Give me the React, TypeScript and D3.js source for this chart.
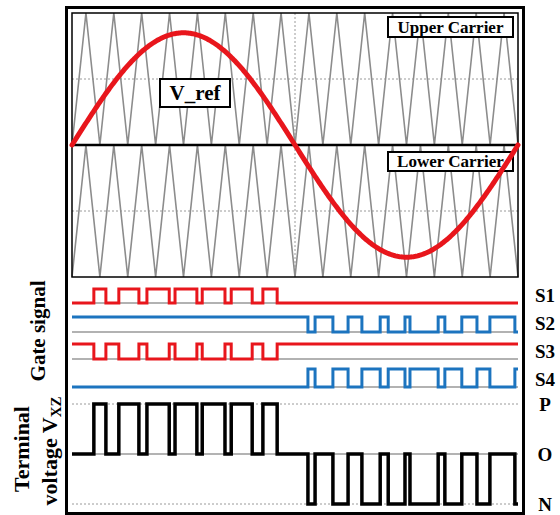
import React from "react";
import * as d3 from "d3";

// Modulation settings
const carrierCycles = 16;
const vrefAmplitude = 0.85;

// Labels
const carrierLabels = ["Upper Carrier", "Lower Carrier"];
const refLabel = "V_ref";
const gateLabels = ["S1", "S2", "S3", "S4"];
const levelLabels = ["P", "O", "N"];

// S1 on-intervals over one fundamental period (positive half cycle)
const s1On: [number, number][] = [
  [0.049, 0.076],
  [0.105, 0.15],
  [0.168, 0.218],
  [0.231, 0.28],
  [0.292, 0.343],
  [0.357, 0.404],
  [0.428, 0.46],
];

// S4 on-intervals (negative half cycle)
const s4On: [number, number][] = [
  [0.529, 0.545],
  [0.585, 0.619],
  [0.65, 0.691],
  [0.709, 0.7466],
  [0.7578, 0.821],
  [0.836, 0.874],
  [0.908, 0.937],
  [0.993, 1.0],
];

const W = 560;
const H = 515;
const PLOT_L = 72;
const PLOT_R = 518;
const CAR_TOP = 13;
const CAR_BOT = 277;

const RED = "#e8161c";
const BLUE = "#1c74bf";
const GRAY = "#8c8c8c";
const FONT = "'Liberation Serif','Times New Roman',serif";

type Seg = { a: number; b: number; v: number };

function stepPoints(segs: Seg[], base: number): [number, number][] {
  const pts: [number, number][] = [[0, base]];
  const sorted = [...segs].sort((p, q) => p.a - q.a);
  let level = base;
  for (const s of sorted) {
    pts.push([s.a, base], [s.a, s.v]);
    level = s.v;
    if (s.b < 1) {
      pts.push([s.b, s.v], [s.b, base]);
      level = base;
    } else {
      pts.push([1, s.v]);
    }
  }
  if (pts[pts.length - 1][0] < 1) pts.push([1, level]);
  return pts;
}

export default function App() {
  const x = d3.scaleLinear().domain([0, 1]).range([PLOT_L, PLOT_R]);
  const yc = d3.scaleLinear().domain([-1, 1]).range([CAR_BOT, CAR_TOP]);
  const yMid = yc(0);

  // carrier triangles
  const carrierPts = d3
    .range(0, 2 * carrierCycles + 1)
    .map((i) => [i / (2 * carrierCycles), i % 2] as [number, number]);
  const carrierLine = (offset: number) =>
    d3
      .line<[number, number]>()
      .x((d) => x(d[0]))
      .y((d) => yc(d[1] + offset))(carrierPts) as string;

  // reference sine
  const refPts = d3
    .range(0, 401)
    .map((i) => [i / 400, vrefAmplitude * Math.sin((2 * Math.PI * i) / 400)] as [number, number]);
  const refPath = d3
    .line<[number, number]>()
    .x((d) => x(d[0]))
    .y((d) => yc(d[1]))(refPts) as string;

  // gate rows
  const rows = [
    { base: 303, high: 289, color: RED, segs: s1On.map(([a, b]) => ({ a, b, v: 1 })), idle: 0 },
    { base: 332, high: 317, color: BLUE, segs: s4On.map(([a, b]) => ({ a, b, v: 0 })), idle: 1 },
    { base: 359, high: 344, color: RED, segs: s1On.map(([a, b]) => ({ a, b, v: 0 })), idle: 1 },
    { base: 387, high: 369, color: BLUE, segs: s4On.map(([a, b]) => ({ a, b, v: 1 })), idle: 0 },
  ];
  const labelY = [302, 330, 358, 386];

  // terminal voltage
  const yv = d3.scaleLinear().domain([-1, 1]).range([504, 404]);
  const vxzSegs: Seg[] = [
    ...s1On.map(([a, b]) => ({ a, b, v: 1 })),
    ...s4On.map(([a, b]) => ({ a, b, v: -1 })),
  ];
  const vxzPath = d3
    .line<[number, number]>()
    .x((d) => x(d[0]))
    .y((d) => yv(d[1]))(stepPoints(vxzSegs, 0)) as string;

  const levelY = [yv(1), yv(0), yv(-1)];

  return (
    <svg
      width={W}
      height={H}
      style={{ position: "absolute", left: 0, top: 0, background: "#fff" }}
      fontFamily={FONT}
      fontWeight="bold"
    >
      {/* carrier panel grid */}
      <g stroke="#9a9a9a" strokeWidth={1} strokeDasharray="2 2">
        <line x1={PLOT_L} x2={PLOT_R} y1={yc(0.5)} y2={yc(0.5)} />
        <line x1={PLOT_L} x2={PLOT_R} y1={yc(-0.5)} y2={yc(-0.5)} />
        <line x1={x(0.5)} x2={x(0.5)} y1={CAR_TOP} y2={CAR_BOT} />
      </g>

      {/* carriers */}
      <path d={carrierLine(0)} fill="none" stroke={GRAY} strokeWidth={1.6} />
      <path d={carrierLine(-1)} fill="none" stroke={GRAY} strokeWidth={1.6} />

      {/* carrier panel borders */}
      <rect
        x={PLOT_L}
        y={CAR_TOP}
        width={PLOT_R - PLOT_L}
        height={CAR_BOT - CAR_TOP}
        fill="none"
        stroke="#000"
        strokeWidth={1.5}
      />
      <line x1={PLOT_L} x2={PLOT_R} y1={yMid} y2={yMid} stroke="#000" strokeWidth={2.5} />

      {/* carrier labels */}
      <g>
        <rect x={388} y={17} width={125} height={20} fill="#fff" stroke="#000" strokeWidth={2} />
        <text x={450.5} y={33} textAnchor="middle" fontSize={17}>
          {carrierLabels[0]}
        </text>
        <rect x={388} y={152} width={125} height={19} fill="#fff" stroke="#000" strokeWidth={2} />
        <text x={450.5} y={167} textAnchor="middle" fontSize={17}>
          {carrierLabels[1]}
        </text>
        <rect x={160} y={79} width={70} height={28} fill="#fff" stroke="#000" strokeWidth={2} />
        <text x={195} y={99.5} textAnchor="middle" fontSize={21}>
          {refLabel}
        </text>
      </g>

      {/* reference */}
      <path d={refPath} fill="none" stroke={RED} strokeWidth={5} strokeLinecap="round" />

      {/* gate signals */}
      {rows.map((r, i) => {
        const yg = (v: number) => (v ? r.high : r.base);
        const d = d3
          .line<[number, number]>()
          .x((p) => x(p[0]))
          .y((p) => yg(p[1]))(stepPoints(r.segs, r.idle)) as string;
        return (
          <g key={gateLabels[i]}>
            <line x1={PLOT_L} x2={PLOT_R} y1={r.base} y2={r.base} stroke="#999" strokeWidth={1.5} />
            <path d={d} fill="none" stroke={r.color} strokeWidth={3} strokeLinejoin="miter" />
            <text x={535} y={labelY[i]} fontSize={19}>
              {gateLabels[i]}
            </text>
          </g>
        );
      })}

      {/* terminal voltage levels */}
      <g stroke="#9a9a9a" strokeWidth={1}>
        <line x1={PLOT_L} x2={PLOT_R} y1={yv(1)} y2={yv(1)} strokeDasharray="2 2" />
        <line x1={PLOT_L} x2={PLOT_R} y1={yv(0)} y2={yv(0)} strokeWidth={1.5} />
        <line x1={PLOT_L} x2={PLOT_R} y1={yv(-1)} y2={yv(-1)} strokeDasharray="2 2" />
      </g>
      <path d={vxzPath} fill="none" stroke="#000" strokeWidth={3.5} />
      {levelLabels.map((l, i) => (
        <text key={l} x={545} y={levelY[i] + 7} textAnchor="middle" fontSize={19}>
          {l}
        </text>
      ))}

      {/* axis titles */}
      <text transform="translate(45,331) rotate(-90)" textAnchor="middle" fontSize={21}>
        Gate signal
      </text>
      <text transform="translate(29,449) rotate(-90)" textAnchor="middle" fontSize={22}>
        Terminal
      </text>
      <text transform="translate(57,451) rotate(-90)" textAnchor="middle" fontSize={22}>
        voltage V
        <tspan fontSize={15} dy={4}>
          XZ
        </tspan>
      </text>

      {/* outer frame */}
      <rect x={66.5} y={7.5} width={457} height={506} fill="none" stroke="#000" strokeWidth={3} />
    </svg>
  );
}
